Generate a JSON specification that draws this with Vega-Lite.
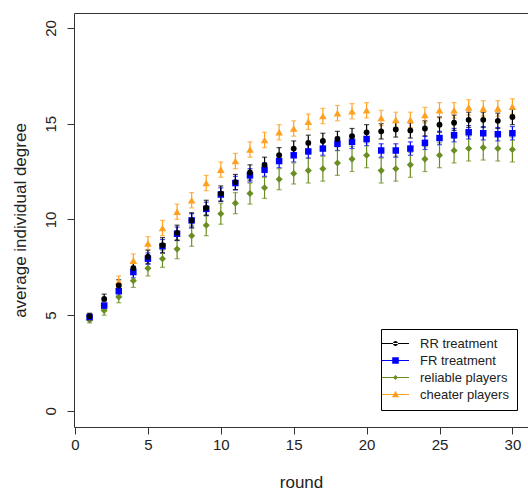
{
  "$schema": "https://vega.github.io/schema/vega-lite/v6.json",
  "autosize": {"type": "none"},
  "padding": {"left": 74, "top": 13, "right": 0, "bottom": 63},
  "width": 454,
  "height": 414,
  "config": {
    "view": {"stroke": null},
    "font": "Liberation Sans",
    "axis": {"domainColor": "#333", "tickColor": "#333", "labelColor": "#222", "titleColor": "#222", "grid": false, "labelFont": "Liberation Sans", "titleFont": "Liberation Sans", "titleFontWeight": "normal"},
    "legend": {"labelFont": "Liberation Sans"}
  },
  "data": {"values": [
    {"round":1,"series":"cheater players","value":4.9,"lo":4.75,"hi":5.05},
    {"round":2,"series":"cheater players","value":5.65,"lo":5.4,"hi":5.9},
    {"round":3,"series":"cheater players","value":6.75,"lo":6.45,"hi":7.05},
    {"round":4,"series":"cheater players","value":7.85,"lo":7.5,"hi":8.2},
    {"round":5,"series":"cheater players","value":8.75,"lo":8.4,"hi":9.1},
    {"round":6,"series":"cheater players","value":9.55,"lo":9.15,"hi":9.95},
    {"round":7,"series":"cheater players","value":10.4,"lo":10.0,"hi":10.8},
    {"round":8,"series":"cheater players","value":11.0,"lo":10.6,"hi":11.4},
    {"round":9,"series":"cheater players","value":11.9,"lo":11.5,"hi":12.3},
    {"round":10,"series":"cheater players","value":12.6,"lo":12.2,"hi":13.0},
    {"round":11,"series":"cheater players","value":13.05,"lo":12.65,"hi":13.45},
    {"round":12,"series":"cheater players","value":13.65,"lo":13.25,"hi":14.05},
    {"round":13,"series":"cheater players","value":14.15,"lo":13.75,"hi":14.55},
    {"round":14,"series":"cheater players","value":14.55,"lo":14.15,"hi":14.95},
    {"round":15,"series":"cheater players","value":14.75,"lo":14.35,"hi":15.15},
    {"round":16,"series":"cheater players","value":15.1,"lo":14.7,"hi":15.5},
    {"round":17,"series":"cheater players","value":15.4,"lo":15.0,"hi":15.8},
    {"round":18,"series":"cheater players","value":15.55,"lo":15.15,"hi":15.95},
    {"round":19,"series":"cheater players","value":15.65,"lo":15.25,"hi":16.05},
    {"round":20,"series":"cheater players","value":15.7,"lo":15.3,"hi":16.1},
    {"round":21,"series":"cheater players","value":15.3,"lo":14.9,"hi":15.7},
    {"round":22,"series":"cheater players","value":15.2,"lo":14.8,"hi":15.6},
    {"round":23,"series":"cheater players","value":15.2,"lo":14.8,"hi":15.6},
    {"round":24,"series":"cheater players","value":15.45,"lo":15.05,"hi":15.85},
    {"round":25,"series":"cheater players","value":15.7,"lo":15.3,"hi":16.1},
    {"round":26,"series":"cheater players","value":15.7,"lo":15.3,"hi":16.1},
    {"round":27,"series":"cheater players","value":15.85,"lo":15.45,"hi":16.25},
    {"round":28,"series":"cheater players","value":15.8,"lo":15.4,"hi":16.2},
    {"round":29,"series":"cheater players","value":15.8,"lo":15.4,"hi":16.2},
    {"round":30,"series":"cheater players","value":15.9,"lo":15.5,"hi":16.3},
    {"round":1,"series":"reliable players","value":4.75,"lo":4.6,"hi":4.9},
    {"round":2,"series":"reliable players","value":5.25,"lo":5.0,"hi":5.5},
    {"round":3,"series":"reliable players","value":5.95,"lo":5.65,"hi":6.25},
    {"round":4,"series":"reliable players","value":6.8,"lo":6.45,"hi":7.15},
    {"round":5,"series":"reliable players","value":7.45,"lo":7.05,"hi":7.85},
    {"round":6,"series":"reliable players","value":7.95,"lo":7.5,"hi":8.4},
    {"round":7,"series":"reliable players","value":8.45,"lo":7.95,"hi":8.95},
    {"round":8,"series":"reliable players","value":9.15,"lo":8.6,"hi":9.7},
    {"round":9,"series":"reliable players","value":9.7,"lo":9.15,"hi":10.25},
    {"round":10,"series":"reliable players","value":10.3,"lo":9.75,"hi":10.85},
    {"round":11,"series":"reliable players","value":10.85,"lo":10.3,"hi":11.4},
    {"round":12,"series":"reliable players","value":11.35,"lo":10.8,"hi":11.9},
    {"round":13,"series":"reliable players","value":11.65,"lo":11.1,"hi":12.2},
    {"round":14,"series":"reliable players","value":12.1,"lo":11.55,"hi":12.65},
    {"round":15,"series":"reliable players","value":12.4,"lo":11.85,"hi":12.95},
    {"round":16,"series":"reliable players","value":12.55,"lo":11.9,"hi":13.2},
    {"round":17,"series":"reliable players","value":12.65,"lo":12.0,"hi":13.3},
    {"round":18,"series":"reliable players","value":12.95,"lo":12.3,"hi":13.6},
    {"round":19,"series":"reliable players","value":13.15,"lo":12.5,"hi":13.8},
    {"round":20,"series":"reliable players","value":13.35,"lo":12.7,"hi":14.0},
    {"round":21,"series":"reliable players","value":12.55,"lo":11.9,"hi":13.2},
    {"round":22,"series":"reliable players","value":12.65,"lo":12.0,"hi":13.3},
    {"round":23,"series":"reliable players","value":12.85,"lo":12.2,"hi":13.5},
    {"round":24,"series":"reliable players","value":13.15,"lo":12.5,"hi":13.8},
    {"round":25,"series":"reliable players","value":13.35,"lo":12.7,"hi":14.0},
    {"round":26,"series":"reliable players","value":13.6,"lo":12.95,"hi":14.25},
    {"round":27,"series":"reliable players","value":13.7,"lo":13.05,"hi":14.35},
    {"round":28,"series":"reliable players","value":13.75,"lo":13.1,"hi":14.4},
    {"round":29,"series":"reliable players","value":13.7,"lo":13.05,"hi":14.35},
    {"round":30,"series":"reliable players","value":13.65,"lo":13.0,"hi":14.3},
    {"round":1,"series":"FR treatment","value":4.9,"lo":4.75,"hi":5.05},
    {"round":2,"series":"FR treatment","value":5.5,"lo":5.3,"hi":5.7},
    {"round":3,"series":"FR treatment","value":6.25,"lo":6.0,"hi":6.5},
    {"round":4,"series":"FR treatment","value":7.25,"lo":6.95,"hi":7.55},
    {"round":5,"series":"FR treatment","value":7.95,"lo":7.65,"hi":8.25},
    {"round":6,"series":"FR treatment","value":8.6,"lo":8.25,"hi":8.95},
    {"round":7,"series":"FR treatment","value":9.25,"lo":8.9,"hi":9.6},
    {"round":8,"series":"FR treatment","value":9.95,"lo":9.6,"hi":10.3},
    {"round":9,"series":"FR treatment","value":10.55,"lo":10.2,"hi":10.9},
    {"round":10,"series":"FR treatment","value":11.3,"lo":10.95,"hi":11.65},
    {"round":11,"series":"FR treatment","value":11.9,"lo":11.55,"hi":12.25},
    {"round":12,"series":"FR treatment","value":12.3,"lo":11.95,"hi":12.65},
    {"round":13,"series":"FR treatment","value":12.6,"lo":12.25,"hi":12.95},
    {"round":14,"series":"FR treatment","value":13.05,"lo":12.7,"hi":13.4},
    {"round":15,"series":"FR treatment","value":13.35,"lo":13.0,"hi":13.7},
    {"round":16,"series":"FR treatment","value":13.55,"lo":13.2,"hi":13.9},
    {"round":17,"series":"FR treatment","value":13.7,"lo":13.35,"hi":14.05},
    {"round":18,"series":"FR treatment","value":13.95,"lo":13.6,"hi":14.3},
    {"round":19,"series":"FR treatment","value":14.05,"lo":13.7,"hi":14.4},
    {"round":20,"series":"FR treatment","value":14.2,"lo":13.85,"hi":14.55},
    {"round":21,"series":"FR treatment","value":13.6,"lo":13.25,"hi":13.95},
    {"round":22,"series":"FR treatment","value":13.6,"lo":13.25,"hi":13.95},
    {"round":23,"series":"FR treatment","value":13.7,"lo":13.35,"hi":14.05},
    {"round":24,"series":"FR treatment","value":14.0,"lo":13.65,"hi":14.35},
    {"round":25,"series":"FR treatment","value":14.25,"lo":13.9,"hi":14.6},
    {"round":26,"series":"FR treatment","value":14.4,"lo":14.05,"hi":14.75},
    {"round":27,"series":"FR treatment","value":14.55,"lo":14.2,"hi":14.9},
    {"round":28,"series":"FR treatment","value":14.5,"lo":14.15,"hi":14.85},
    {"round":29,"series":"FR treatment","value":14.45,"lo":14.1,"hi":14.8},
    {"round":30,"series":"FR treatment","value":14.5,"lo":14.15,"hi":14.85},
    {"round":1,"series":"RR treatment","value":4.95,"lo":4.8,"hi":5.1},
    {"round":2,"series":"RR treatment","value":5.85,"lo":5.6,"hi":6.1},
    {"round":3,"series":"RR treatment","value":6.55,"lo":6.25,"hi":6.85},
    {"round":4,"series":"RR treatment","value":7.45,"lo":7.15,"hi":7.75},
    {"round":5,"series":"RR treatment","value":8.05,"lo":7.7,"hi":8.4},
    {"round":6,"series":"RR treatment","value":8.65,"lo":8.25,"hi":9.05},
    {"round":7,"series":"RR treatment","value":9.3,"lo":8.9,"hi":9.7},
    {"round":8,"series":"RR treatment","value":9.95,"lo":9.55,"hi":10.35},
    {"round":9,"series":"RR treatment","value":10.6,"lo":10.2,"hi":11.0},
    {"round":10,"series":"RR treatment","value":11.35,"lo":10.95,"hi":11.75},
    {"round":11,"series":"RR treatment","value":11.95,"lo":11.55,"hi":12.35},
    {"round":12,"series":"RR treatment","value":12.45,"lo":12.05,"hi":12.85},
    {"round":13,"series":"RR treatment","value":12.85,"lo":12.45,"hi":13.25},
    {"round":14,"series":"RR treatment","value":13.35,"lo":12.95,"hi":13.75},
    {"round":15,"series":"RR treatment","value":13.7,"lo":13.3,"hi":14.1},
    {"round":16,"series":"RR treatment","value":14.0,"lo":13.6,"hi":14.4},
    {"round":17,"series":"RR treatment","value":14.1,"lo":13.7,"hi":14.5},
    {"round":18,"series":"RR treatment","value":14.2,"lo":13.8,"hi":14.6},
    {"round":19,"series":"RR treatment","value":14.35,"lo":13.95,"hi":14.75},
    {"round":20,"series":"RR treatment","value":14.55,"lo":14.15,"hi":14.95},
    {"round":21,"series":"RR treatment","value":14.6,"lo":14.2,"hi":15.0},
    {"round":22,"series":"RR treatment","value":14.7,"lo":14.3,"hi":15.1},
    {"round":23,"series":"RR treatment","value":14.65,"lo":14.25,"hi":15.05},
    {"round":24,"series":"RR treatment","value":14.75,"lo":14.35,"hi":15.15},
    {"round":25,"series":"RR treatment","value":14.95,"lo":14.55,"hi":15.35},
    {"round":26,"series":"RR treatment","value":15.05,"lo":14.65,"hi":15.45},
    {"round":27,"series":"RR treatment","value":15.2,"lo":14.8,"hi":15.6},
    {"round":28,"series":"RR treatment","value":15.2,"lo":14.8,"hi":15.6},
    {"round":29,"series":"RR treatment","value":15.15,"lo":14.75,"hi":15.55},
    {"round":30,"series":"RR treatment","value":15.35,"lo":14.95,"hi":15.75}
  ]},
  "layer": [
    {
      "mark": {"type": "errorbar", "ticks": {"size": 5}, "thickness": 1.2},
      "encoding": {
        "x": {"field": "round", "type": "quantitative", "scale": {"domain": [-0.07, 31.07], "nice": false, "zero": false},
          "axis": {"orient": "bottom", "values": [0, 5, 10, 15, 20, 25, 30], "tickSize": 7, "labelPadding": 3, "labelFontSize": 15, "title": "round", "titleFontSize": 17, "titlePadding": 22}},
        "y": {"field": "lo", "type": "quantitative", "scale": {"domain": [-0.84, 20.78], "nice": false, "zero": false},
          "axis": {"orient": "left", "values": [0, 5, 10, 15, 20], "tickSize": 7, "labelAngle": -90, "labelAlign": "center", "labelBaseline": "alphabetic", "labelPadding": 12, "labelFontSize": 15, "title": "average individual degree", "titleFontSize": 17, "titlePadding": 14}},
        "y2": {"field": "hi"},
        "color": {"field": "series", "type": "nominal", "legend": null,
          "scale": {"domain": ["RR treatment", "FR treatment", "reliable players", "cheater players"], "range": ["#000000", "#0000ff", "#6b8e23", "#ffa020"]}}
      }
    },
    {
      "mark": {"type": "point", "filled": true, "opacity": 1},
      "encoding": {
        "x": {"field": "round", "type": "quantitative", "axis": null},
        "y": {"field": "value", "type": "quantitative"},
        "color": {"field": "series", "type": "nominal", "legend": null,
          "scale": {"domain": ["RR treatment", "FR treatment", "reliable players", "cheater players"], "range": ["#000000", "#0000ff", "#6b8e23", "#ffa020"]}},
        "shape": {"field": "series", "type": "nominal", "legend": null,
          "scale": {"domain": ["RR treatment", "FR treatment", "reliable players", "cheater players"], "range": ["circle", "square", "diamond", "triangle-up"]}},
        "size": {"field": "series", "type": "nominal", "legend": null,
          "scale": {"domain": ["RR treatment", "FR treatment", "reliable players", "cheater players"], "range": [34, 58, 32, 55]}}
      }
    },
    {
      "mark": {"type": "point", "filled": true, "opacity": 0},
      "encoding": {
        "x": {"field": "round", "type": "quantitative", "axis": {"orient": "top", "labels": false, "ticks": false, "title": null, "domain": true}},
        "y": {"field": "value", "type": "quantitative"},
        "color": {"field": "series", "type": "nominal",
          "scale": {"domain": ["RR treatment", "FR treatment", "reliable players", "cheater players"], "range": ["#000000", "#0000ff", "#6b8e23", "#ffa020"]},
          "legend": {"orient": "none", "legendX": 307, "legendY": 316, "title": null, "strokeColor": "#000", "padding": 8, "labelFontSize": 13, "labelColor": "#222", "symbolSize": 144, "symbolOpacity": 1, "symbolStrokeWidth": 0, "symbolOffset": 0, "labelOffset": 18, "rowPadding": 3}},
        "shape": {"field": "series", "type": "nominal",
          "scale": {"domain": ["RR treatment", "FR treatment", "reliable players", "cheater players"],
            "range": [
              "M-2.25,-0.1H2.25V0.1H-2.25Z M-0.42,0A0.42,0.42 0 1,0 0.42,0A0.42,0.42 0 1,0 -0.42,0Z",
              "M-2.25,-0.1H2.25V0.1H-2.25Z M-0.55,-0.55H0.55V0.55H-0.55Z",
              "M-2.25,-0.1H2.25V0.1H-2.25Z M0,-0.42L0.42,0L0,0.42L-0.42,0Z",
              "M-2.25,-0.1H2.25V0.1H-2.25Z M0,-0.62L0.6,0.45H-0.6Z"
            ]},
          "legend": {"orient": "none", "legendX": 307, "legendY": 316, "title": null, "strokeColor": "#000", "padding": 8, "labelFontSize": 13, "labelColor": "#222", "symbolSize": 144, "symbolOpacity": 1, "symbolStrokeWidth": 0, "symbolOffset": 0, "labelOffset": 18, "rowPadding": 3}}
      }
    }
  ],
  "resolve": {"scale": {"shape": "independent", "color": "independent"}}
}
